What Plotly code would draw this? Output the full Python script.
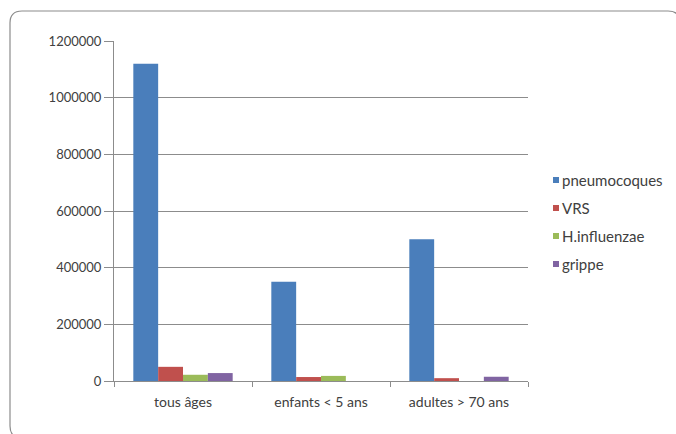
import plotly.graph_objects as go

# Categories and series values
categories = ["tous âges", "enfants < 5 ans", "adultes > 70 ans"]
series_names = ["pneumocoques", "VRS", "H.influenzae", "grippe"]
pneumocoques = [1120000, 350000, 500000]
vrs = [50000, 14000, 10000]
h_influenzae = [22000, 18000, 0]
grippe = [28000, 0, 15000]
y_ticks = [0, 200000, 400000, 600000, 800000, 1000000, 1200000]

colors = ["#4A7EBB", "#C0504D", "#9BBB59", "#8064A2"]
values = [pneumocoques, vrs, h_influenzae, grippe]

W, H = 676, 434
ML, MR, MT, MB = 114, 148, 41, 53
PW, PH = W - ML - MR, H - MT - MB

fig = go.Figure()
for name, vals, col in zip(series_names, values, colors):
    fig.add_trace(go.Bar(x=categories, y=vals, name=name, marker_color=col,
                         marker_line_width=0, showlegend=False))


def px(x):
    return (x - ML) / PW


def py(y):
    return (H - MB - y) / PH


shapes = []
annotations = []

# rounded outer frame
x0, y0, x1, y1, r = 10, 11, 680, 438, 12
path = (f"M {px(x0 + r)},{py(y0)} L {px(x1 - r)},{py(y0)} "
        f"Q {px(x1)},{py(y0)} {px(x1)},{py(y0 + r)} "
        f"L {px(x1)},{py(y1 - r)} Q {px(x1)},{py(y1)} {px(x1 - r)},{py(y1)} "
        f"L {px(x0 + r)},{py(y1)} Q {px(x0)},{py(y1)} {px(x0)},{py(y1 - r)} "
        f"L {px(x0)},{py(y0 + r)} Q {px(x0)},{py(y0)} {px(x0 + r)},{py(y0)} Z")
shapes.append(dict(type="path", xref="paper", yref="paper", path=path,
                   line=dict(color="#8C8C8C", width=1.2), layer="below"))

# legend: small colour squares with labels
leg_x, leg_y0, leg_dy, sq = 553, 180, 28, 6
for i, (name, col) in enumerate(zip(series_names, colors)):
    cy = leg_y0 + i * leg_dy
    shapes.append(dict(type="rect", xref="paper", yref="paper",
                       x0=px(leg_x), x1=px(leg_x + sq),
                       y0=py(cy + sq / 2), y1=py(cy - sq / 2),
                       fillcolor=col, line=dict(width=0)))
    annotations.append(dict(xref="paper", yref="paper", x=px(leg_x + sq + 1),
                            y=py(cy), xanchor="left", yanchor="middle",
                            text=name, showarrow=False,
                            font=dict(size=15, color="#404040")))

fig.update_layout(
    width=W, height=H,
    margin=dict(l=ML, r=MR, t=MT, b=MB),
    paper_bgcolor="white", plot_bgcolor="white",
    font=dict(family="Lato, Open Sans, sans-serif", size=13, color="#404040"),
    barmode="group", bargap=0.28, bargroupgap=0,
    shapes=shapes, annotations=annotations,
    xaxis=dict(showline=True, linecolor="#8C8C8C", linewidth=1,
               ticks="outside", tickson="boundaries", ticklen=5,
               tickcolor="#8C8C8C", tickfont=dict(size=14), showgrid=False,
               ticklabelstandoff=8),
    yaxis=dict(range=[0, 1200000], tickvals=y_ticks, tickformat="d",
               showline=True, linecolor="#8C8C8C", linewidth=1,
               ticks="outside", ticklen=9, tickcolor="#8C8C8C",
               showgrid=True, gridcolor="#8C8C8C", gridwidth=1,
               zeroline=False, tickfont=dict(size=13)),
)

fig.write_html("out.html")
